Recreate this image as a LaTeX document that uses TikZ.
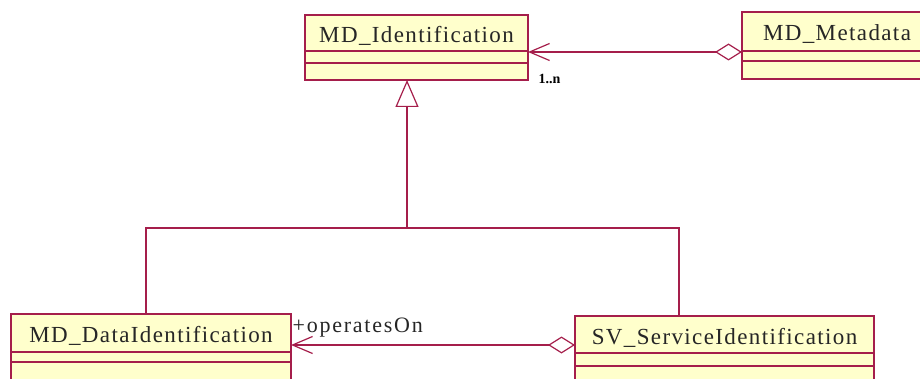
\documentclass[tikz,border=0pt]{standalone}
\usepackage{fontspec}
\setmainfont{Liberation Serif}
\newfontfamily\classfont[LetterSpace=6]{Liberation Serif}
\newfontfamily\rolefont[LetterSpace=8]{Liberation Serif}
\usetikzlibrary{positioning, arrows.meta}
\definecolor{umlborder}{RGB}{165, 30, 75}
\definecolor{umlfill}{RGB}{255, 255, 204}

\begin{document}
\begin{tikzpicture}[
    x=1pt, y=-1pt,
    classname/.style={
      draw=umlborder, fill=umlfill, line width=1.2pt,
      inner sep=0pt, outer sep=0pt, text=black!85,
      text height=19pt, text depth=0pt,
      font=\classfont\fontsize{23}{23}\selectfont
    },
    classpart/.style={
      draw=umlborder, fill=umlfill, line width=1.2pt,
      inner sep=0pt, outer sep=0pt
    },
    link/.style={umlborder, line width=1.2pt},
    aggregation/.style={link,
      {Diamond[open, length=27pt, width=17pt]}-{Straight Barb[length=20pt, width=17pt]}},
    inherits/.style={link, -{Triangle[open, length=27pt, width=23pt]}},
    mult/.style={font=\bfseries\fontsize{14}{14}\selectfont, text=black, inner sep=0pt},
    role/.style={font=\rolefont\fontsize{22}{22}\selectfont, text=black!85, inner sep=0pt},
]
    \useasboundingbox (0,0) rectangle (920,379);
    \clip (0,0) rectangle (920,379);

    % MD_Identification
    \node[classname, minimum width=223pt, minimum height=36pt] (ident) at (416.5,33) {MD\_Identification};
    \node[classpart, minimum width=223pt, minimum height=12pt, below=0pt of ident] (identattr) {};
    \node[classpart, minimum width=223pt, minimum height=17pt, below=0pt of identattr] (identops) {};

    % MD_Metadata
    \node[classname, minimum width=190pt, minimum height=39pt] (meta) at (837,31.5) {MD\_Metadata};
    \node[classpart, minimum width=190pt, minimum height=10pt, below=0pt of meta] (metaattr) {};
    \node[classpart, minimum width=190pt, minimum height=18pt, below=0pt of metaattr] (metaops) {};

    % MD_DataIdentification
    \node[classname, minimum width=280pt, minimum height=38pt] (dataid) at (151,333) {MD\_DataIdentification};
    \node[classpart, minimum width=280pt, minimum height=10pt, below=0pt of dataid] (dataidattr) {};
    \node[classpart, minimum width=280pt, minimum height=40pt, below=0pt of dataidattr] (dataidops) {};

    % SV_ServiceIdentification
    \node[classname, minimum width=299pt, minimum height=37pt] (service) at (724.5,334.5) {SV\_ServiceIdentification};
    \node[classpart, minimum width=299pt, minimum height=13pt, below=0pt of service] (serviceattr) {};
    \node[classpart, minimum width=299pt, minimum height=40pt, below=0pt of serviceattr] (serviceops) {};

    % metadata aggregates 1..n identifications
    \draw[aggregation] ([yshift=-20.5pt]meta.west) -- ([yshift=-20.5pt]meta.west -| ident.east)
      node[mult, pos=1, anchor=north west, xshift=10pt, yshift=-22pt] (identmult) {1..n};

    % service operates on data
    \draw[aggregation] ([yshift=-10.5pt]service.west) -- ([yshift=-10.5pt]service.west -| dataid.east)
      node[role, pos=1, anchor=base west, xshift=1pt, yshift=13pt] (operates) {+operatesOn};

    % generalization tree
    \coordinate (fork) at (407,228);
    \draw[link] ([xshift=-5pt]dataid.north) |- (fork) -| ([xshift=-45.5pt]service.north);
    \draw[inherits] (fork) -- (fork |- identops.south);
\end{tikzpicture}
\end{document}
